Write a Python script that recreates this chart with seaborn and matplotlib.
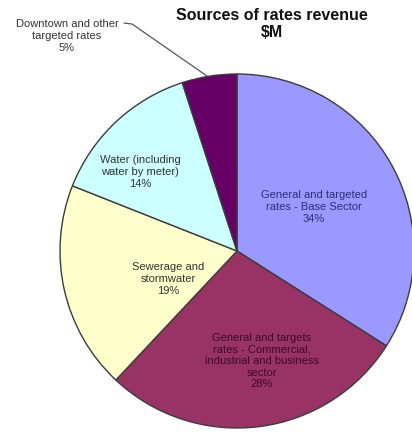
import matplotlib
matplotlib.use("Agg")
import matplotlib.pyplot as plt
import seaborn as sns

# Revenue shares (percent), clockwise from 12 o'clock
categories = [
    "General and targeted\nrates - Base Sector",
    "General and targets\nrates - Commercial,\nindustrial and business\nsector",
    "Sewerage and\nstormwater",
    "Water (including\nwater by meter)",
    "Downtown and other\ntargeted rates",
]
shares = [34, 28, 19, 14, 5]
colors = ["#9999FF", "#993366", "#FFFFCC", "#CCFFFF", "#660066"]
text_colors = ["#2E2E7A", "#3A0A22", "#333333", "#333333", "#333333"]

sns.set_theme(style="white")
plt.rcParams["font.family"] = ["Liberation Sans", "DejaVu Sans"]

W, H = 412, 440
fig = plt.figure(figsize=(W / 100, H / 100), dpi=100)
ax = fig.add_axes([0, 0, 1, 1])

# work in pixel units (y measured up from the bottom)
cx, cy, r = 237, H - 251, 177
ax.pie(shares, colors=colors, startangle=90, counterclock=False,
       center=(cx, cy), radius=r,
       wedgeprops=dict(edgecolor="#3c3c3c", linewidth=1.0))
ax.set_xlim(0, W)
ax.set_ylim(0, H)
ax.set_aspect("equal")
ax.axis("off")

# label anchors (x, y of the middle of each text block, from top)
label_pos = [(314, 207), (262, 361), (168, 279), (140, 172), (67, 36)]
for cat, val, (x, y), tc in zip(categories, shares, label_pos, text_colors):
    ax.text(x, H - y, f"{cat}\n{val}%", ha="center", va="center",
            fontsize=8, color=tc, linespacing=1.2)

# leader line for the small slice
ax.plot([124, 132, 207], [H - 23, H - 24, H - 76], color="#555555", lw=0.9)

ax.text(272, H - 24, "Sources of rates revenue\n$M", ha="center", va="center",
        fontsize=11.5, fontweight="bold", color="#111111", linespacing=1.1)

fig.savefig("out.png", dpi=100)
